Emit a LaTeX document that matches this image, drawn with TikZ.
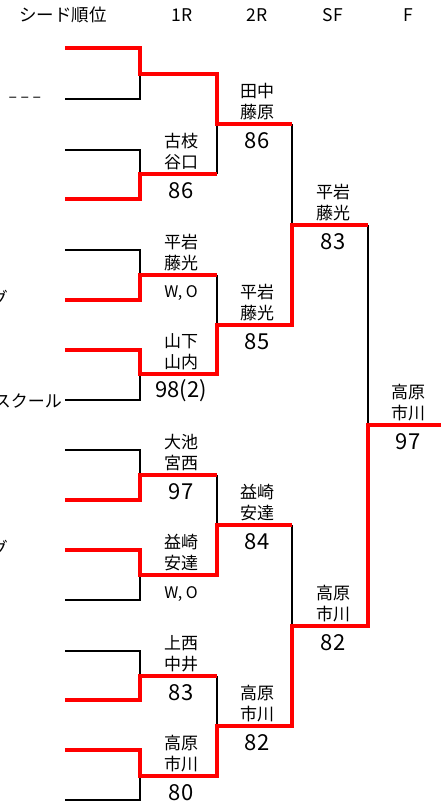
\documentclass[tikz,border=0pt]{standalone}
\usepackage{fontspec}
\newfontfamily\jp{Noto Sans CJK JP}
\begin{document}
\begin{tikzpicture}[x=1pt,y=-1pt,
  blk/.style={line width=1.5pt, black, line join=miter},
  win/.style={line width=4pt, red, line join=miter},
  nm/.style={font=\jp\fontsize{17}{21}\selectfont, align=center, inner sep=0pt},
  sc/.style={font=\jp\fontsize{22}{24}\selectfont, inner sep=0pt},
  wo/.style={font=\jp\fontsize{16}{18}\selectfont, inner sep=0pt},
  hd/.style={font=\jp\fontsize{17.5}{20}\selectfont, inner sep=0pt},
  side/.style={font=\jp\fontsize{17}{20}\selectfont, inner sep=0pt, anchor=east}]
\useasboundingbox (0,0) rectangle (441,807);
\fill[white] (0,0) rectangle (441,807);
\clip (0,0) rectangle (441,807);

% header
\node[hd] (h0) at (63,15) {シード順位};
\node[hd] (h1) at (182,15) {1R};
\node[hd] (h2) at (257,15) {2R};
\node[hd] (h3) at (333,15) {SF};
\node[hd] (h4) at (408,15) {F};

% entries
\foreach \i/\y in {1/48,2/99,3/150,4/199,5/250,6/300,7/350,8/400,9/450,10/500,11/550,12/600,13/651,14/700,15/750,16/800}
  \coordinate (e\i) at (65,\y);
% 1R joints and outputs
\foreach \k/\y in {1/74,2/174,3/275,4/374,5/475,6/575,7/676,8/776}{
  \coordinate (j1\k) at (140,\y);
  \coordinate (r1\k) at (217,\y);}
% 2R
\foreach \k/\y in {1/124,2/325,3/525,4/726}{
  \coordinate (j2\k) at (217,\y);
  \coordinate (r2\k) at (292,\y);}
% SF
\foreach \k/\y in {1/225,2/626}{
  \coordinate (jS\k) at (292,\y);
  \coordinate (rS\k) at (368,\y);}
% F
\coordinate (jF) at (368,425);
\coordinate (rF) at (441,425);

% losing lines
\draw[blk] (e2) -| (j11);
\draw[blk] (e3) -| (j12);
\draw[blk] (e5) -| (j13);
\draw[blk] (e8) -| (j14);
\draw[blk] (e9) -| (j15);
\draw[blk] (e12) -| (j16);
\draw[blk] (e13) -| (j17);
\draw[blk] (e16) -| (j18);
\draw[blk] (r12) -- (j21);
\draw[blk] (r13) -- (j22);
\draw[blk] (r15) -- (j23);
\draw[blk] (r17) -- (j24);
\draw[blk] (r21) -- (jS1);
\draw[blk] (r23) -- (jS2);
\draw[blk] (rS1) -- (jF);

% winning lines
\draw[win] (e1) -| (j11) -- (r11) |- (r21);
\draw[win] (e4) -| (j12) -- (r12);
\draw[win] (e6) -| (j13) -- (r13);
\draw[win] (e7) -| (j14) -- (r14) |- (r22) |- (rS1);
\draw[win] (e10) -| (j15) -- (r15);
\draw[win] (e11) -| (j16) -- (r16) |- (r23);
\draw[win] (e14) -| (j17) -- (r17);
\draw[win] (e15) -| (j18) -- (r18) |- (r24) |- (rS2) |- (rF);

% side texts
\node[side, text=black!70] (t2) at (42,100) {\scalebox{1.6}[1.2]{-\kern1.5pt-\kern1.5pt-}};
\node[side] (t6) at (8,298) {グ};
\node[side] (t8) at (62,401) {スクール};
\node[side] (t11) at (8,548) {グ};

% 1R labels
\node[nm] (n12) at (181,152) {古枝\\谷口};  \node[sc] (s12) at (181,191) {86};
\node[nm] (n13) at (181,253) {平岩\\藤光};  \node[wo] (s13) at (181,293) {W, O};
\node[nm] (n14) at (181,352) {山下\\山内};  \node[sc] (s14) at (181,391) {98(2)};
\node[nm] (n15) at (181,453) {大池\\宮西};  \node[sc] (s15) at (181,492) {97};
\node[nm] (n16) at (181,553) {益崎\\安達};  \node[wo] (s16) at (181,594) {W, O};
\node[nm] (n17) at (181,654) {上西\\中井};  \node[sc] (s17) at (181,693) {83};
\node[nm] (n18) at (181,754) {高原\\市川};  \node[sc] (s18) at (181,793) {80};
% 2R labels
\node[nm] (n21) at (257,102) {田中\\藤原};  \node[sc] (s21) at (257,141) {86};
\node[nm] (n22) at (257,303) {平岩\\藤光};  \node[sc] (s22) at (257,342) {85};
\node[nm] (n23) at (257,503) {益崎\\安達};  \node[sc] (s23) at (257,542) {84};
\node[nm] (n24) at (257,704) {高原\\市川};  \node[sc] (s24) at (257,743) {82};
% SF labels
\node[nm] (nS1) at (333,203) {平岩\\藤光};  \node[sc] (sS1) at (333,242) {83};
\node[nm] (nS2) at (333,604) {高原\\市川};  \node[sc] (sS2) at (333,643) {82};
% F label
\node[nm] (nF) at (408,403) {高原\\市川};  \node[sc] (sF) at (408,442) {97};
\end{tikzpicture}
\end{document}
